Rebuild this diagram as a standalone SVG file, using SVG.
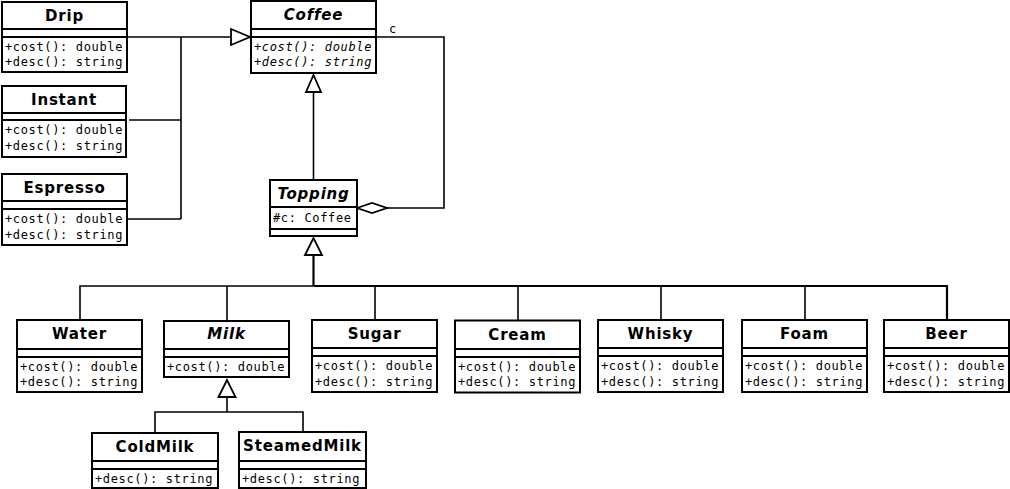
<svg xmlns="http://www.w3.org/2000/svg" width="1010" height="489" viewBox="0 0 1010 489">
<style>
.box{fill:#fff;stroke:#000;stroke-width:2}
.sep{stroke:#000;stroke-width:2}
.t{font-family:"DejaVu Sans","Liberation Sans",sans-serif;font-weight:bold;font-size:15px;letter-spacing:0.8px;text-anchor:middle;fill:#000}
.ti{font-style:italic}
.m{font-family:"DejaVu Sans Mono","Liberation Mono",monospace;font-size:12px;letter-spacing:0.65px;fill:#000}
.mi{font-style:italic}
.ln{fill:none;stroke:#000;stroke-width:1.6}
.thick{fill:none;stroke:#000;stroke-width:2.2}
.tri{fill:#fff;stroke:#000;stroke-width:1.8}
</style>
<rect width="1010" height="489" fill="#fff"/>
<g id="connectors">
<polyline class="ln" points="127,37 231,37"/>
<polyline class="ln" points="181,37 181,219"/>
<polyline class="ln" points="129,120 181,120"/>
<polyline class="ln" points="127,219 181,219"/>
<polygon class="tri" points="231,29 250,37 231,45"/>
<polyline class="ln" points="313.5,180 313.5,92"/>
<polygon class="tri" points="306,92 313.5,75 321,92"/>
<polyline class="ln" points="376,37 444,37 444,208 387,208"/>
<polygon class="tri" points="357,208 372,203 387,208 372,213"/>
<polyline class="ln" points="80,320 80,286 313.5,286"/>
<polyline class="thick" points="313.5,286 947,286 947,320"/>
<polyline class="thick" points="313.5,255 313.5,286"/>
<polygon class="tri" points="305,255 313.5,238 322,255"/>
<polyline class="ln" points="227,286 227,321"/>
<polyline class="ln" points="375,286 375,320"/>
<polyline class="ln" points="518,286 518,320"/>
<polyline class="ln" points="661,286 661,320"/>
<polyline class="ln" points="805,286 805,320"/>
<polyline class="ln" points="155,432 155,412 303,412 303,432"/>
<polyline class="ln" points="227,397 227,412"/>
<polygon class="tri" points="218.5,397 227,380 235.5,397"/>
<text class="m" x="389" y="33">c</text>
</g>
<g id="Drip">
<rect class="box" x="2" y="2" width="125" height="70"/>
<line class="sep" x1="2" y1="29" x2="127" y2="29"/><line class="sep" x1="2" y1="37" x2="127" y2="37"/>
<text class="t" x="64.5" y="21">Drip</text>
<text class="m" x="5" y="50.5">+cost(): double</text>
<text class="m" x="5" y="66">+desc(): string</text>
</g>
<g id="Instant">
<rect class="box" x="2" y="86" width="124" height="71"/>
<line class="sep" x1="2" y1="113" x2="126" y2="113"/><line class="sep" x1="2" y1="120" x2="126" y2="120"/>
<text class="t" x="64" y="105">Instant</text>
<text class="m" x="5" y="134">+cost(): double</text>
<text class="m" x="5" y="149.5">+desc(): string</text>
</g>
<g id="Espresso">
<rect class="box" x="2" y="174" width="125" height="71"/>
<line class="sep" x1="2" y1="201" x2="127" y2="201"/><line class="sep" x1="2" y1="209" x2="127" y2="209"/>
<text class="t" x="64.5" y="193">Espresso</text>
<text class="m" x="5" y="223">+cost(): double</text>
<text class="m" x="5" y="238.5">+desc(): string</text>
</g>
<g id="Coffee">
<rect class="box" x="251" y="1" width="125" height="72"/>
<line class="sep" x1="251" y1="29" x2="376" y2="29"/><line class="sep" x1="251" y1="37" x2="376" y2="37"/>
<text class="t ti" x="313.5" y="20">Coffee</text>
<text class="m mi" x="254" y="50.5">+cost(): double</text>
<text class="m mi" x="254" y="66">+desc(): string</text>
</g>
<g id="Topping">
<rect class="box" x="270" y="180" width="87" height="56"/>
<line class="sep" x1="270" y1="207" x2="357" y2="207"/><line class="sep" x1="270" y1="229" x2="357" y2="229"/>
<text class="t ti" x="313.5" y="199">Topping</text>
<text class="m" x="273" y="222">#c: Coffee</text>
</g>
<g id="Water">
<rect class="box" x="17" y="320" width="125" height="72"/>
<line class="sep" x1="17" y1="349" x2="142" y2="349"/><line class="sep" x1="17" y1="357" x2="142" y2="357"/>
<text class="t" x="79.5" y="339">Water</text>
<text class="m" x="20" y="370.5">+cost(): double</text>
<text class="m" x="20" y="386">+desc(): string</text>
</g>
<g id="Milk">
<rect class="box" x="164" y="321" width="125" height="56"/>
<line class="sep" x1="164" y1="349" x2="289" y2="349"/><line class="sep" x1="164" y1="357" x2="289" y2="357"/>
<text class="t ti" x="226.5" y="339">Milk</text>
<text class="m" x="167" y="370.5">+cost(): double</text>
</g>
<g id="Sugar">
<rect class="box" x="312" y="320" width="125" height="72"/>
<line class="sep" x1="312" y1="348" x2="437" y2="348"/><line class="sep" x1="312" y1="356" x2="437" y2="356"/>
<text class="t" x="374.5" y="339">Sugar</text>
<text class="m" x="315" y="370">+cost(): double</text>
<text class="m" x="315" y="385.5">+desc(): string</text>
</g>
<g id="Cream">
<rect class="box" x="455" y="320.5" width="125" height="72"/>
<line class="sep" x1="455" y1="349" x2="580" y2="349"/><line class="sep" x1="455" y1="357" x2="580" y2="357"/>
<text class="t" x="517.5" y="340">Cream</text>
<text class="m" x="458" y="370.5">+cost(): double</text>
<text class="m" x="458" y="386">+desc(): string</text>
</g>
<g id="Whisky">
<rect class="box" x="598" y="320" width="125" height="72"/>
<line class="sep" x1="598" y1="348" x2="723" y2="348"/><line class="sep" x1="598" y1="356" x2="723" y2="356"/>
<text class="t" x="660.5" y="339">Whisky</text>
<text class="m" x="601" y="370">+cost(): double</text>
<text class="m" x="601" y="385.5">+desc(): string</text>
</g>
<g id="Foam">
<rect class="box" x="742" y="320" width="125" height="72"/>
<line class="sep" x1="742" y1="348" x2="867" y2="348"/><line class="sep" x1="742" y1="356" x2="867" y2="356"/>
<text class="t" x="804.5" y="339">Foam</text>
<text class="m" x="745" y="370">+cost(): double</text>
<text class="m" x="745" y="385.5">+desc(): string</text>
</g>
<g id="Beer">
<rect class="box" x="884" y="320" width="125" height="72"/>
<line class="sep" x1="884" y1="348" x2="1009" y2="348"/><line class="sep" x1="884" y1="356" x2="1009" y2="356"/>
<text class="t" x="946.5" y="339">Beer</text>
<text class="m" x="887" y="370">+cost(): double</text>
<text class="m" x="887" y="385.5">+desc(): string</text>
</g>
<g id="ColdMilk">
<rect class="box" x="92" y="433" width="126" height="55"/>
<line class="sep" x1="92" y1="461" x2="218" y2="461"/><line class="sep" x1="92" y1="469" x2="218" y2="469"/>
<text class="t" x="155" y="452">ColdMilk</text>
<text class="m" x="95" y="482.5">+desc(): string</text>
</g>
<g id="SteamedMilk">
<rect class="box" x="239" y="432" width="127" height="56"/>
<line class="sep" x1="239" y1="461" x2="366" y2="461"/><line class="sep" x1="239" y1="469" x2="366" y2="469"/>
<text class="t" x="302.5" y="451">SteamedMilk</text>
<text class="m" x="242" y="482.5">+desc(): string</text>
</g>
</svg>
